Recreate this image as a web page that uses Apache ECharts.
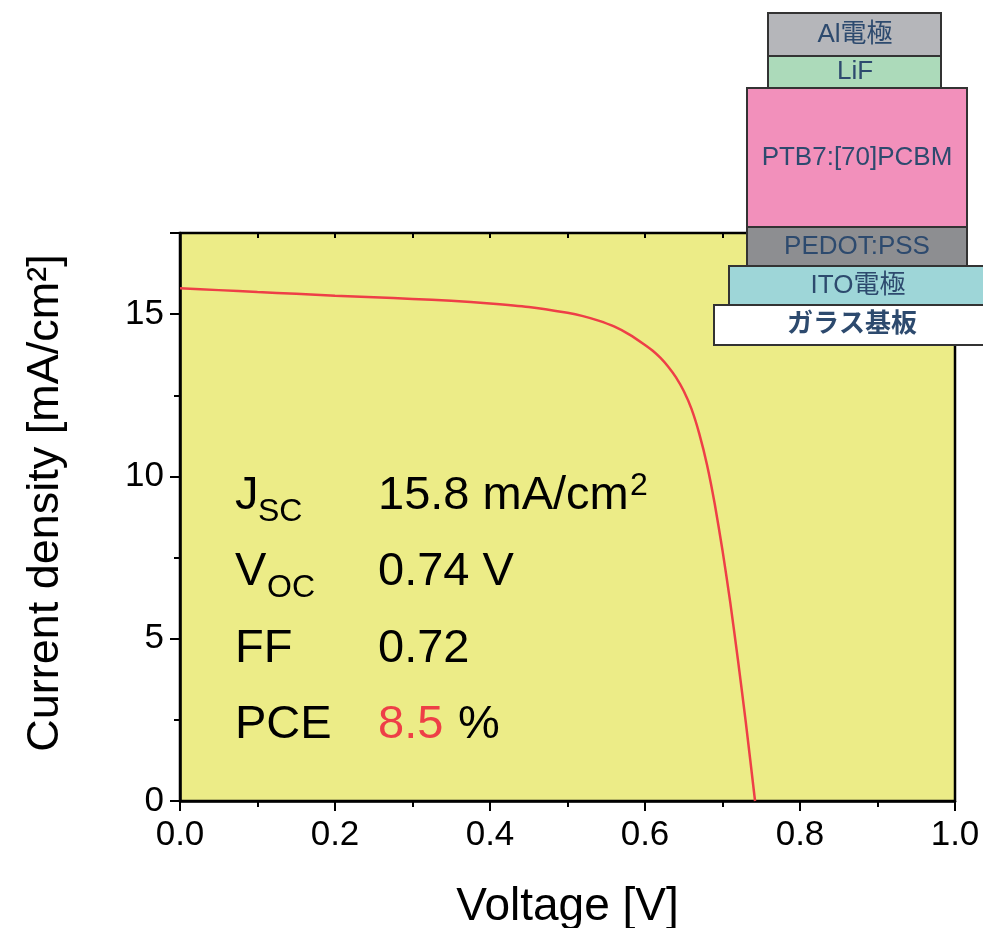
<!DOCTYPE html>
<html>
<head>
<meta charset="utf-8">
<script src="https://cdn.jsdelivr.net/npm/echarts@6/dist/echarts.min.js"></script>
<style>
html,body{margin:0;padding:0;background:#fff;}
#main{width:983px;height:928px;}
</style>
</head>
<body>
<div id="main"></div>
<script>
// J-V curve
var voltage=[0,0.05,0.1,0.15,0.2,0.25,0.3,0.35,0.4,0.45,0.5,0.52,0.54,0.56,0.58,0.60,0.61,0.62,0.63,0.64,0.65,0.66,0.67,0.68,0.69,0.70,0.71,0.72,0.73,0.742]
var current=[15.80,15.74,15.68,15.63,15.57,15.52,15.47,15.41,15.33,15.22,15.04,14.94,14.80,14.62,14.37,14.05,13.87,13.65,13.38,13.05,12.63,12.08,11.32,10.36,9.15,7.72,6.12,4.33,2.44,0.00]
var xTicks=[0,0.2,0.4,0.6,0.8,1.0]
var yTicks=[0,5,10,15]
// device layers, top to bottom
var layerNames=['Al電極','LiF','PTB7:[70]PCBM','PEDOT:PSS','ITO電極','ガラス基板']
var layerColors=['#b5b6ba','#acdaba','#f290bb','#8d8e91','#9ed6d8','#ffffff']
// solar cell parameters
var paramNames=[['J','SC'],['V','OC'],['FF',''],['PCE','']]
var paramValues=['15.8 mA/cm','0.74 V','0.72','8.5']

var font='"Liberation Sans", Arial, sans-serif'
var cjk='"Liberation Sans", "Noto Sans CJK JP", sans-serif'
var pts=[]
for(var i=0;i<voltage.length;i++){
	pts.push([voltage[i],current[i]])
}

var mychart=echarts.init(document.getElementById('main'));

// layer boxes (pixel layout of the inset drawing)
var boxes=[[768,13,173,43],[768,56,173,32],[747,88,220,139],[747,227,220,39],[729,266,270,39],[714,305,285,40]]
var textX=[855,855,857,857,858,852]
var graphics=[]
for(var k=0;k<boxes.length;k++){
	graphics.push({
		type:'rect',z:100,
		shape:{x:boxes[k][0],y:boxes[k][1],width:boxes[k][2],height:boxes[k][3]},
		style:{fill:layerColors[k],stroke:'#333',lineWidth:2}
	})
	var bold=(k==5)
	graphics.push({
		type:'text',z:101,
		x:textX[k],y:boxes[k][1]+boxes[k][3]/2,
		style:{text:layerNames[k],fill:'#2d4a6e',font:(bold?'bold ':'')+'26px '+cjk,
			textAlign:'center',textVerticalAlign:'middle'}
	})
}
// parameter table
var rowY=[496,572,649,725]
for(var r=0;r<4;r++){
	graphics.push({type:'text',z:50,x:235,y:rowY[r],
		style:{text:paramNames[r][0],fill:'#000',font:'47px '+font,textVerticalAlign:'middle'}})
	if(paramNames[r][1]){
		graphics.push({type:'text',z:50,x:(r==0?258:267),y:rowY[r]+16,
			style:{text:paramNames[r][1],fill:'#000',font:'32px '+font,textVerticalAlign:'middle'}})
	}
	graphics.push({type:'text',z:50,x:378,y:rowY[r],
		style:{text:paramValues[r],fill:(r==3?'#ee3f47':'#000'),font:'47px '+font,textVerticalAlign:'middle'}})
}
graphics.push({type:'text',z:50,x:630,y:486,style:{text:'2',fill:'#000',font:'32px '+font,textVerticalAlign:'middle'}})
graphics.push({type:'text',z:50,x:458,y:725,style:{text:'%',fill:'#000',font:'47px '+font,textVerticalAlign:'middle'}})

var option={
	animation:false,
	grid:{
		left:180,right:28,top:233,bottom:127,
		outerBoundsMode:'none',
		show:true,
		backgroundColor:'#ecec87',
		borderColor:'#000',
		borderWidth:2.5
	},
	xAxis:[{
		type:'value',
		min:0,max:1,interval:0.2,
		name:'Voltage [V]',
		nameLocation:'middle',
		nameGap:83,
		nameTextStyle:{fontSize:46,color:'#000',fontFamily:font},
		axisLine:{lineStyle:{color:'#000',width:2.5}},
		axisTick:{inside:false,length:10,lineStyle:{color:'#000',width:2}},
		minorTick:{show:true,splitNumber:2,length:6,lineStyle:{color:'#000',width:2}},
		axisLabel:{fontSize:35,color:'#000',fontFamily:font,margin:17,
			formatter:function(v){return v.toFixed(1)}},
		splitLine:{show:false}
	},{
		type:'value',position:'top',
		min:0,max:1,interval:0.1,
		axisLine:{show:false},
		axisTick:{inside:true,length:5,lineStyle:{color:'#000',width:2}},
		axisLabel:{show:false},
		splitLine:{show:false}
	}],
	yAxis:[{
		type:'value',
		min:0,max:17.5,interval:5,
		name:'Current density [mA/cm²]',
		nameLocation:'middle',
		nameRotate:90,
		nameGap:112,
		nameTextStyle:{fontSize:45,color:'#000',fontFamily:font,padding:[0,0,0,28]},
		axisLine:{lineStyle:{color:'#000',width:2.5}},
		axisTick:{inside:false,length:10,lineStyle:{color:'#000',width:2}},
		minorTick:{show:true,splitNumber:2,length:6,lineStyle:{color:'#000',width:2}},
		axisLabel:{fontSize:35,color:'#000',fontFamily:font,margin:16,
			formatter:function(v){return yTicks.indexOf(v)>=0?String(v):''}},
		splitLine:{show:false}
	}],
	series:[{
		type:'line',
		data:pts,
		smooth:0.2,
		showSymbol:false,
		lineStyle:{color:'#ee3f47',width:2.5},
		clip:true
	}],
	graphic:graphics
};
mychart.setOption(option);
</script>
</body>
</html>
